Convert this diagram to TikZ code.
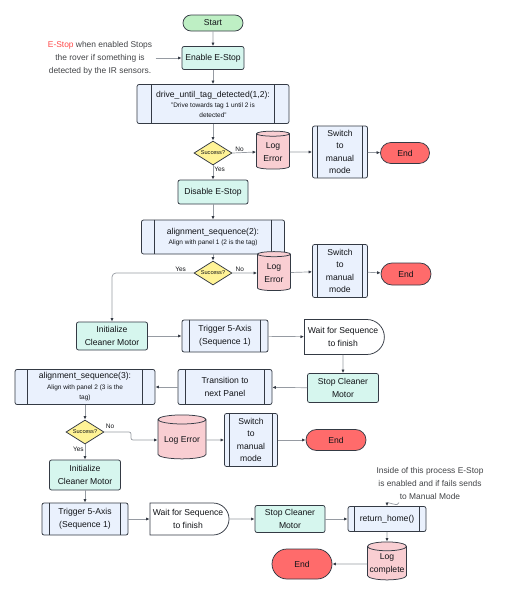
\documentclass[tikz,border=0pt]{standalone}
\usepackage{fontspec}
\setmainfont{Liberation Sans}
\usetikzlibrary{arrows.meta,positioning,shapes.geometric,shapes.misc,calc}
\definecolor{linegray}{RGB}{52,58,68}
\definecolor{arrowgray}{RGB}{150,155,162}
\definecolor{procblue}{RGB}{234,241,253}
\definecolor{softteal}{RGB}{214,246,238}
\definecolor{startgreen}{RGB}{190,239,196}
\definecolor{endred}{RGB}{255,107,107}
\definecolor{logpink}{RGB}{249,206,210}
\definecolor{decisionyellow}{RGB}{255,243,150}
\definecolor{estopred}{RGB}{255,72,72}
\definecolor{textdark}{RGB}{18,20,24}
\newcommand{\subtxt}{\fontsize{6.5}{8.5}\selectfont}

\begin{document}
\begin{tikzpicture}[
    x=1pt, y=-1pt,
    font=\fontsize{8.6}{12.5}\selectfont,
    text=textdark,
    block/.style={
        rectangle,
        rounded corners=2pt,
        draw=linegray,
        line width=0.75pt,
        align=center,
        inner sep=1pt
    },
    action/.style={block, fill=softteal},
    barline/.style={draw=linegray, line width=1.2pt},
    subproc/.style={
        block,
        fill=procblue,
        append after command={
            ([xshift=#1]\tikzlastnode.north west) edge[barline]
            ([xshift=#1]\tikzlastnode.south west)
            ([xshift=-#1]\tikzlastnode.north east) edge[barline]
            ([xshift=-#1]\tikzlastnode.south east)
        }
    },
    subproc/.default=13pt,
    terminal/.style={
        rounded rectangle,
        draw=linegray,
        line width=0.75pt,
        inner sep=1pt
    },
    startnode/.style={terminal, fill=startgreen},
    endnode/.style={terminal, fill=endred},
    waitnode/.style={
        rounded rectangle,
        rounded rectangle left arc=none,
        draw=linegray,
        line width=0.75pt,
        fill=white,
        align=center,
        inner sep=1pt
    },
    logdb/.style={
        cylinder,
        shape border rotate=90,
        aspect=0.24,
        draw=linegray,
        line width=0.75pt,
        cylinder uses custom fill,
        cylinder body fill=logpink,
        cylinder end fill=logpink,
        align=center,
        inner sep=1pt
    },
    decision/.style={
        diamond,
        aspect=1.6,
        draw=linegray,
        line width=0.75pt,
        fill=decisionyellow,
        inner sep=0pt,
        font=\fontsize{5.6}{6}\selectfont
    },
    flow/.style={-{Latex[length=3.5pt,width=3.2pt,color=linegray]}, draw=arrowgray, line width=0.7pt},
    label/.style={font=\fontsize{6.5}{7}\selectfont, inner sep=1pt},
    note/.style={align=center, font=\fontsize{8.4}{13}\selectfont, text=textdark!80}
]
\useasboundingbox (0,0) rectangle (505,600);

% First leg: drive to tag 2
\node[startnode, minimum width=62pt, minimum height=16pt] (start) at (213,23) {Start};
\node[action, minimum width=62pt, minimum height=23pt] (enable) at (213,58) {Enable E-Stop};
\node[note] (estopnote) at (100,58)
    {\textcolor{estopred}{E-Stop} when enabled Stops\\the rover if something is\\detected by the IR sensors.};
\node[subproc=15pt, minimum width=152pt, minimum height=39pt] (drive) at (213,104)
    {drive\_until\_tag\_detected(1,2):\\[-2pt]
     \subtxt "Drive towards tag 1 until 2 is\\[-3pt]\subtxt detected"};
\node[decision, minimum width=38pt, minimum height=24pt] (check1) at (213,153) {Success?};
\node[logdb, minimum width=33pt, minimum height=38pt] (log1) at (273,152) {Log\\Error};
\node[subproc=5pt, minimum width=55pt, minimum height=52pt] (manual1) at (340,152)
    {Switch\\to\\manual\\mode};
\node[endnode, minimum width=51pt, minimum height=21pt] (end1) at (405,153) {End};

% Align with panel 1
\node[action, minimum width=70pt, minimum height=24pt] (disable) at (213,192) {Disable E-Stop};
\node[subproc=13pt, minimum width=143pt, minimum height=34pt] (align1) at (213,237)
    {alignment\_sequence(2):\\[-2pt]
     \subtxt Align with panel 1 (2 is the tag)};
\node[decision, minimum width=38pt, minimum height=24pt] (check2) at (213,273) {Success?};
\node[logdb, minimum width=33pt, minimum height=39pt] (log2) at (274,273) {Log\\Error};
\node[subproc=5pt, minimum width=55pt, minimum height=53pt] (manual2) at (340,271)
    {Switch\\to\\manual\\mode};
\node[endnode, minimum width=52pt, minimum height=22pt] (end2) at (406,274) {End};

% Clean panel 1
\node[action, minimum width=71pt, minimum height=28pt] (motoron1) at (112,336)
    {Initialize\\Cleaner Motor};
\node[subproc=8pt, minimum width=86pt, minimum height=32pt] (axis1) at (225,336)
    {Trigger 5-Axis\\(Sequence 1)};
\node[waitnode, minimum width=82pt, minimum height=35pt] (wait1) at (343,337)
    {Wait for Sequence\\to finish};
\node[action, minimum width=71pt, minimum height=29pt] (motoroff1) at (343,388)
    {Stop Cleaner\\Motor};
\node[subproc=8pt, minimum width=94pt, minimum height=35pt] (transition) at (225,387)
    {Transition to\\next Panel};
\node[subproc=13pt, minimum width=140pt, minimum height=35pt] (align2) at (85,387)
    {alignment\_sequence(3):\\[-2pt]
     \subtxt Align with panel 2 (3 is the\\[-2pt]\subtxt tag)};
\node[decision, minimum width=38pt, minimum height=24pt] (check3) at (85,432) {Success?};
\node[logdb, minimum width=48pt, minimum height=44pt] (log3) at (182,440) {Log Error};
\node[subproc=5pt, minimum width=53pt, minimum height=53pt] (manual3) at (251,440)
    {Switch\\to\\manual\\mode};
\node[endnode, minimum width=62pt, minimum height=21pt] (end3) at (336,440) {End};

% Clean panel 2 and return
\node[action, minimum width=71pt, minimum height=30pt] (motoron2) at (85,475)
    {Initialize\\Cleaner Motor};
\node[subproc=8pt, minimum width=86pt, minimum height=32pt] (axis2) at (85,519)
    {Trigger 5-Axis\\(Sequence 1)};
\node[waitnode, minimum width=81pt, minimum height=32pt] (wait2) at (188,519)
    {Wait for Sequence\\to finish};
\node[action, minimum width=70pt, minimum height=27pt] (motoroff2) at (290,519)
    {Stop Cleaner\\Motor};
\node[subproc=7pt, minimum width=78pt, minimum height=25pt] (home) at (387,519) {return\_home()};
\node[logdb, minimum width=39pt, minimum height=38pt] (logdone) at (387,564) {Log\\complete};
\node[endnode, minimum width=62pt, minimum height=30pt] (end4) at (302,564) {End};
\node[note] (homenote) at (430,483)
    {Inside of this process E-Stop\\is enabled and if fails sends\\to Manual Mode};

% Connectors
\draw[flow] (start) -- (enable);
\draw[flow] (estopnote.east) -- (enable.west);
\draw[flow] (enable) -- (drive);
\draw[flow] (drive) -- (check1);
\draw[flow] (check1.east) -- node[label, pos=0.3, above] {No} (log1.west);
\draw[flow] (log1) -- (manual1);
\draw[flow] (manual1) -- (end1);
\draw[flow] (check1.south) -- node[label, pos=0.25, right] {Yes} (disable.north);
\draw[flow] (disable) -- (align1);
\draw[flow] (align1) -- (check2);
\draw[flow] (check2.east) -- node[label, pos=0.3, above] {No} (log2.west);
\draw[flow] (log2) -- (manual2);
\draw[flow] (manual2) -- (end2);
\draw[flow, rounded corners=4pt] (check2.west) -| node[label, pos=0.08, above] {Yes} (motoron1.north);
\draw[flow] (motoron1) -- (axis1);
\draw[flow] (axis1) -- (wait1);
\draw[flow] (wait1) -- (motoroff1);
\draw[flow] (motoroff1) -- (transition);
\draw[flow] (transition) -- (align2);
\draw[flow] (align2) -- (check3);
\draw[flow, rounded corners=2pt] (check3.east) -| ($(check3.east)!0.5!(log3.west)$)
    |- (log3.west);
\node[label] (no3) at (110,426) {No};
\draw[flow] (log3) -- (manual3);
\draw[flow] (manual3) -- (end3);
\draw[flow] (check3.south) -- node[label, pos=0.3, left] {Yes} (motoron2.north);
\draw[flow] (motoron2) -- (axis2);
\draw[flow] (axis2) -- (wait2);
\draw[flow] (wait2) -- (motoroff2);
\draw[flow] (motoroff2) -- (home);
\draw[flow] ([xshift=-31pt]homenote.south) to[out=-90, in=90] (home.north);
\draw[flow] (home) -- (logdone);
\draw[flow] (logdone) -- (end4);

\end{tikzpicture}
\end{document}
